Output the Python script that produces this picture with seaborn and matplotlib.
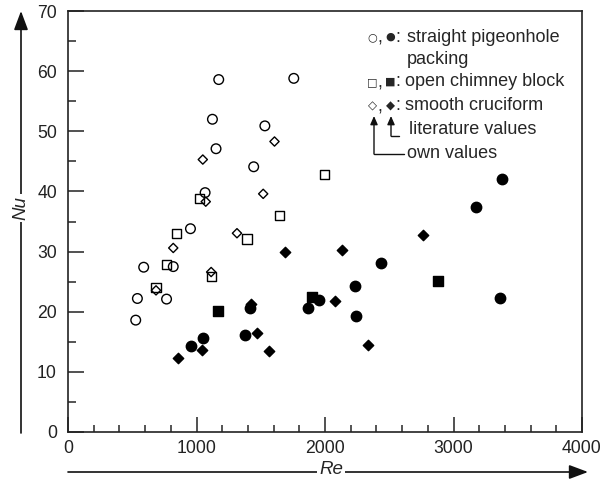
import matplotlib
matplotlib.use("Agg")
import matplotlib.pyplot as plt
import seaborn as sns
import pandas as pd
from matplotlib.ticker import MultipleLocator
from matplotlib.patches import FancyArrowPatch
from matplotlib.lines import Line2D

# ---- data ----
# own values (open markers)
pig_own_re = [1173, 1757, 1124, 1532, 1152, 1445, 1067, 953, 589, 819, 540, 767, 527]
pig_own_nu = [58.6, 58.8, 52.0, 50.9, 47.1, 44.1, 39.8, 33.8, 27.4, 27.5, 22.2, 22.1, 18.6]
chim_own_re = [1023, 1997, 1643, 847, 1393, 765, 1114, 685]
chim_own_nu = [38.8, 42.8, 36.0, 33.05, 32.1, 27.8, 25.9, 24.05]
cruc_own_re = [1607, 1049, 1519, 1072, 819, 1315, 685, 1114]
cruc_own_nu = [48.3, 45.3, 39.6, 38.3, 30.6, 33.05, 23.55, 26.6]
# literature values (filled markers)
pig_lit_re = [1413, 961, 1054, 1375, 1866, 1956, 3176, 2437, 2233, 2243, 3359, 3375]
pig_lit_nu = [20.7, 14.3, 15.7, 16.2, 20.7, 21.9, 37.4, 28.1, 24.3, 19.3, 22.3, 42.1]
chim_lit_re = [1168, 1902, 2878]
chim_lit_nu = [20.2, 22.5, 25.1]
cruc_lit_re = [1424, 853, 1041, 1473, 1561, 1687, 2078, 2129, 2762, 2336]
cruc_lit_nu = [21.3, 12.3, 13.6, 16.5, 13.45, 29.9, 21.8, 30.2, 32.7, 14.4]

x_ticks = [0, 1000, 2000, 3000, 4000]
y_ticks = [0, 10, 20, 30, 40, 50, 60, 70]

sns.set_theme(style="ticks")
plt.rcParams['font.family'] = ['Liberation Sans', 'DejaVu Sans']

W, H = 606, 480
fig = plt.figure(figsize=(W / 100, H / 100), dpi=100)
ax = fig.add_axes([68 / W, 1 - 432 / H, (582 - 68) / W, (432 - 11) / H])

series = [
    (pig_own_re, pig_own_nu, 'o', False, 48),
    (chim_own_re, chim_own_nu, 's', False, 44),
    (cruc_own_re, cruc_own_nu, 'D', False, 22),
    (pig_lit_re, pig_lit_nu, 'o', True, 56),
    (chim_lit_re, chim_lit_nu, 's', True, 46),
    (cruc_lit_re, cruc_lit_nu, 'D', True, 28),
]
for re_, nu_, mk, filled, s in series:
    df = pd.DataFrame({'Re': re_, 'Nu': nu_})
    sns.scatterplot(data=df, x='Re', y='Nu', ax=ax, marker=mk, s=s,
                    facecolor='black' if filled else 'none',
                    edgecolor='black', linewidth=1.0, legend=False, zorder=3)

ax.set_xlim(0, 4000)
ax.set_ylim(0, 70)
ax.set_xticks(x_ticks)
ax.set_yticks(y_ticks)
ax.set_xticklabels([str(v) for v in x_ticks])
ax.set_yticklabels([str(v) for v in y_ticks])
ax.xaxis.set_minor_locator(MultipleLocator(200))
ax.yaxis.set_minor_locator(MultipleLocator(5))
ax.tick_params(which='major', axis='y', direction='in', length=11.5, width=1.1,
               labelsize=12.7, pad=8, colors='#222222')
ax.tick_params(which='minor', axis='y', direction='in', length=5.8, width=1.1)
ax.tick_params(which='major', axis='x', direction='in', length=11, width=1.1,
               labelsize=12.7, pad=6, colors='#222222')
ax.tick_params(which='minor', axis='x', direction='in', length=5.2, width=1.1)
ax.set_xlabel('')
ax.set_ylabel('')
for sp in ax.spines.values():
    sp.set_visible(True)
    sp.set_linewidth(1.2)
    sp.set_color('#222222')


def px(x, y):
    return (x / W, 1 - y / H)


# axis arrows
arrow_kw = dict(arrowstyle='-|>,head_length=1.15,head_width=0.43', color='#111111', lw=1.2,
                shrinkA=0, shrinkB=0, mutation_scale=10, transform=fig.transFigure)
fig.add_artist(FancyArrowPatch(px(21, 433), px(21, 11), **arrow_kw))
fig.add_artist(FancyArrowPatch(px(68, 472), px(588, 472), **arrow_kw))
fig.text(*px(21, 208), 'Nu', rotation=90, ha='center', va='center', fontsize=13.5,
         style='italic', bbox=dict(facecolor='white', edgecolor='none', pad=1.5))
fig.text(*px(331, 470), 'Re', ha='center', va='center', fontsize=13.5,
         style='italic', bbox=dict(facecolor='white', edgecolor='none', pad=1.5))

# legend text
fs = 13
sym_fam = ['DejaVu Sans']
rows = [(37, '○', '●', 8, 'straight pigeonhole', 407),
        (82, '□', '■', 8, 'open chimney block', 405),
        (106, '◇', '◆', 8.5, 'smooth cruciform', 405)]
for y, s1, s2, ss, label, tx in rows:
    fig.text(*px(372, y), s1, ha='center', va='center', fontsize=ss, family=sym_fam)
    fig.text(*px(380, y + 1), ',', ha='center', va='center', fontsize=fs)
    fig.text(*px(390, y), s2, ha='center', va='center', fontsize=ss, family=sym_fam)
    fig.text(*px(398, y), ':', ha='center', va='center', fontsize=fs)
    fig.text(*px(tx, y), label, ha='left', va='center', fontsize=fs)
fig.text(*px(407, 59), 'packing', ha='left', va='center', fontsize=fs)
fig.text(*px(409, 130), 'literature values', ha='left', va='center', fontsize=fs)
fig.text(*px(407, 154), 'own values', ha='left', va='center', fontsize=fs)

small_arrow = dict(arrowstyle='-|>,head_length=0.5,head_width=0.22', color='#111111', lw=1.0,
                   shrinkA=0, shrinkB=0, mutation_scale=10, transform=fig.transFigure)
fig.add_artist(FancyArrowPatch(px(374, 154), px(374, 116), **small_arrow))
fig.add_artist(Line2D([374 / W, 404 / W], [1 - 154 / H, 1 - 154 / H],
                      transform=fig.transFigure, color='#111111', lw=1.0))
fig.add_artist(FancyArrowPatch(px(391, 136), px(391, 116), **small_arrow))
fig.add_artist(Line2D([391 / W, 399 / W], [1 - 136 / H, 1 - 136 / H],
                      transform=fig.transFigure, color='#111111', lw=1.0))

fig.savefig('out.png', dpi=100)
